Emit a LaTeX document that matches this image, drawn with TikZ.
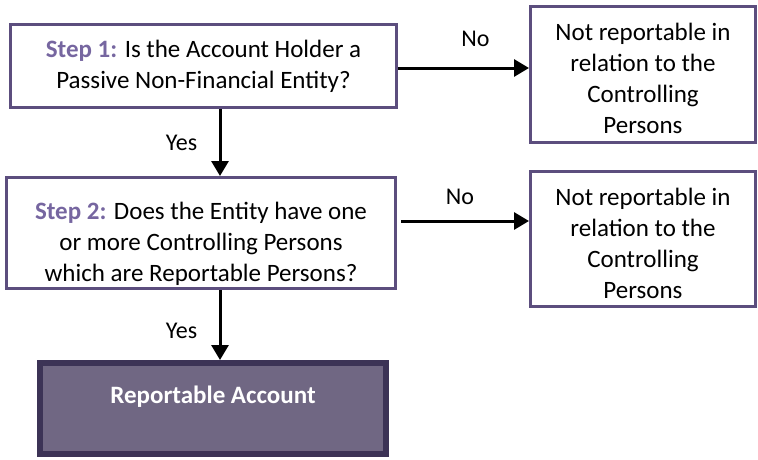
\documentclass[tikz,border=0pt]{standalone}
\usepackage{fontspec}
\setmainfont{Carlito}
\usetikzlibrary{arrows.meta,positioning}
\definecolor{stepframe}{HTML}{5C4E7E}
\definecolor{steplabel}{HTML}{7666A0}
\definecolor{reportfill}{HTML}{706783}
\definecolor{reportframe}{HTML}{3C3356}
\begin{document}
\begin{tikzpicture}[x=1pt,y=-1pt,
    question/.style={draw=stepframe,line width=3pt,align=center,inner sep=0pt,
        font=\fontsize{25}{31}\selectfont},
    outcome/.style={question,minimum width=225pt,minimum height=136pt},
    flow/.style={line width=3pt,-{Triangle[length=15pt,width=17pt]}},
    answer/.style={font=\fontsize{24}{29}\selectfont}]
    \useasboundingbox (0,0) rectangle (758,459);
    %% Questions
    \node[question,minimum width=386pt,minimum height=83pt] (stepone) at (203.5,66)
        {\textcolor{steplabel}{\bfseries Step 1:} Is the Account Holder a\\Passive Non-Financial Entity?};
    \node[question,minimum width=389pt,minimum height=111pt,text height=104pt,text depth=7pt] (steptwo) at (201,233)
        {\textcolor{steplabel}{\bfseries Step 2:} Does the Entity have one\\or more Controlling Persons\\which are Reportable Persons?};
    %% Outcomes
    \node[outcome,text height=127pt,text depth=9pt] (notone) at (643,74.5)
        {Not reportable in\\relation to the\\Controlling\\Persons};
    \node[outcome,minimum height=135pt,text height=127pt,text depth=8pt] (nottwo) at (643,239)
        {Not reportable in\\relation to the\\Controlling\\Persons};
    \node[draw=reportframe,fill=reportfill,line width=6pt,minimum width=346pt,minimum height=91pt,
        inner sep=0pt,text height=40pt,text depth=51pt,text=white,
        font=\fontsize{25}{31}\selectfont\bfseries] (report) at (213,408.5) {Reportable Account};
    %% Connectors
    \coordinate (downone) at ([xshift=16.5pt]stepone.south);
    \coordinate (downtwo) at (downone |- steptwo.south);
    \coordinate (sideone) at ([yshift=-2pt]stepone.east);
    \coordinate (sidetwo) at ([xshift=4pt,yshift=12pt]steptwo.east);
    \draw[flow] (downone) -- (downone |- steptwo.north) node[midway,answer,left=18pt] {Yes};
    \draw[flow] (downtwo) -- (downtwo |- report.north) node[midway,answer,left=18pt,yshift=-6pt] {Yes};
    \draw[flow] (sideone) -- (sideone -| notone.west) node[midway,answer,above=17pt,xshift=12pt] {No};
    \draw[flow] (sidetwo) -- (sidetwo -| nottwo.west) node[midway,answer,above=12pt,xshift=-5pt] {No};
\end{tikzpicture}
\end{document}
